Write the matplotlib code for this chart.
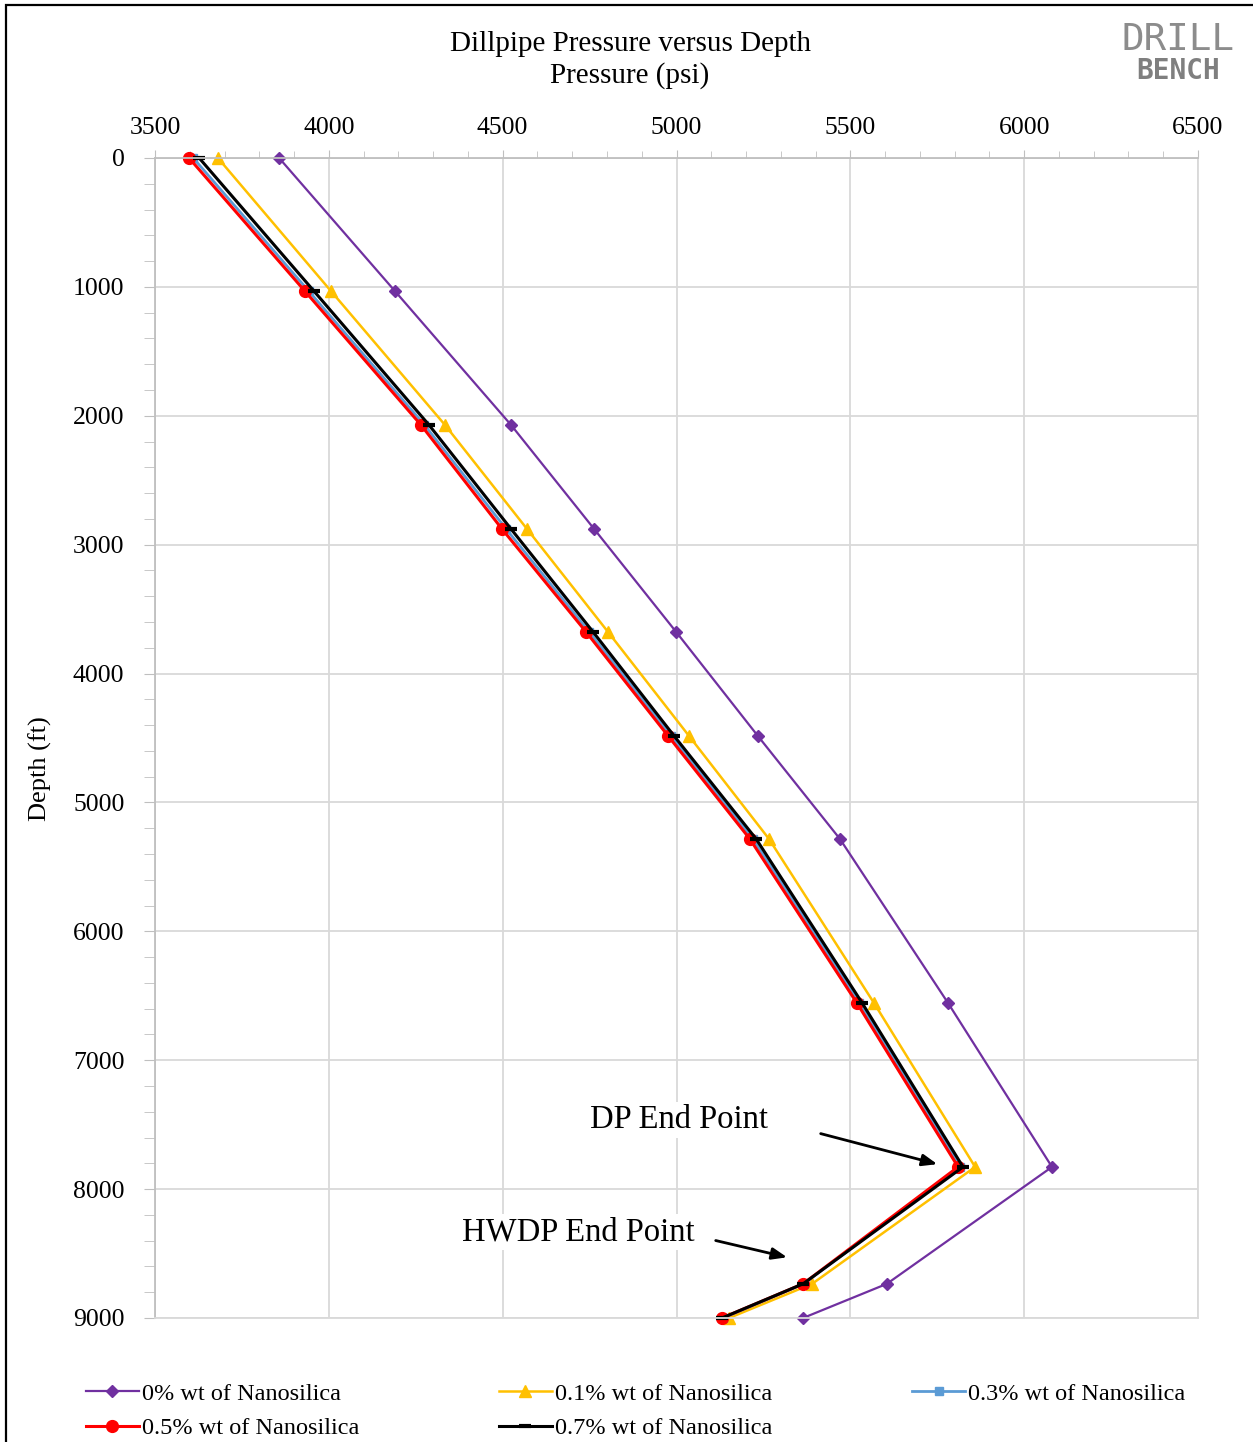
import matplotlib.pyplot as plt
from matplotlib.patches import Rectangle
from matplotlib.ticker import MultipleLocator

# Profundidad (ft) y presión (psi)
depth = [0, 1032, 2071, 2878, 3677, 4484, 5283, 6556, 7828, 8735, 9000]
p_0 = [3857, 4190, 4524, 4763, 4999, 5234, 5470, 5781, 6080, 5605, 5364]
p_01 = [3681, 4006, 4334, 4570, 4803, 5036, 5266, 5568, 5859, 5390, 5151]
p_03 = [3610, 3942, 4275, 4510, 4749, 4984, 5220, 5526, 5816, 5366, 5134]
p_05 = [3598, 3931, 4265, 4498, 4740, 4976, 5211, 5519, 5810, 5364, 5131]
p_07 = [3627, 3957, 4288, 4524, 4760, 4993, 5229, 5534, 5824, 5364, 5131]

labels = ['0% wt of Nanosilica', '0.1% wt of Nanosilica', '0.3% wt of Nanosilica',
          '0.5% wt of Nanosilica', '0.7% wt of Nanosilica']

plt.rcParams['font.family'] = ['Liberation Serif', 'DejaVu Serif']

fig = plt.figure(figsize=(12.53, 14.42), dpi=100)
ax = fig.add_axes([155 / 1253, 1 - 1318 / 1442, 1043 / 1253, 1160 / 1442])

h0, = ax.plot(p_0, depth, color='#7030A0', lw=1.6, marker='D', ms=6.5, label=labels[0], clip_on=False)
h1, = ax.plot(p_01, depth, color='#FFC000', lw=1.8, marker='^', ms=8.5, label=labels[1], clip_on=False)
h3, = ax.plot(p_03, depth, color='#5B9BD5', lw=2, marker='s', ms=6, label=labels[2], clip_on=False)
h5, = ax.plot(p_05, depth, color='#FF0000', lw=2.2, marker='o', ms=8.5, label=labels[3], clip_on=False)
h7, = ax.plot(p_07, depth, color='black', lw=2.2, marker='_', ms=9, mew=3, label=labels[4], clip_on=False)

ax.set_xlim(3500, 6500)
ax.set_ylim(9000, 0)
ax.xaxis.set_major_locator(MultipleLocator(500))
ax.xaxis.set_minor_locator(MultipleLocator(100))
ax.yaxis.set_major_locator(MultipleLocator(1000))
ax.yaxis.set_minor_locator(MultipleLocator(200))
ax.xaxis.tick_top()
ax.tick_params(which='both', color='#bfbfbf', labelsize=18.5)
ax.tick_params(axis='x', which='major', length=6, pad=8)
ax.tick_params(axis='x', which='minor', length=5)
ax.tick_params(axis='y', which='major', length=8, pad=14)
ax.tick_params(axis='y', which='minor', length=8)
ax.grid(True, which='major', color='#d9d9d9', lw=1.3)
ax.set_axisbelow(True)
for s in ax.spines.values():
    s.set_color('#d9d9d9')
    s.set_linewidth(1.3)
ax.spines['left'].set_color('#bfbfbf')
ax.spines['top'].set_color('#bfbfbf')

# Anotaciones
ax.annotate('', xy=(5758, 7812), xytext=(5407, 7564),
            arrowprops=dict(arrowstyle='-|>,head_length=0.9,head_width=0.35', color='black', lw=2))
ax.text(5007, 7463, 'DP End Point', fontsize=23.5, ha='center', va='center',
        bbox=dict(facecolor='white', edgecolor='none', pad=2))
ax.annotate('', xy=(5326, 8534), xytext=(5105, 8394),
            arrowprops=dict(arrowstyle='-|>,head_length=0.9,head_width=0.35', color='black', lw=2))
ax.text(4719, 8332, 'HWDP End Point', fontsize=23.5, ha='center', va='center',
        bbox=dict(facecolor='white', edgecolor='none', pad=2))

# Títulos
fig.text(630 / 1253, 1 - 44 / 1442, 'Dillpipe Pressure versus Depth', fontsize=21, ha='center', va='center')
fig.text(630 / 1253, 1 - 76 / 1442, 'Pressure (psi)', fontsize=21, ha='center', va='center')
fig.text(40 / 1253, 1 - 769 / 1442, 'Depth (ft)', fontsize=19, rotation=90, ha='center', va='center')

# Logo
fig.text(1178 / 1253, 1 - 40 / 1442, 'DRILL', fontsize=27, family='DejaVu Sans Mono',
         color='#8c8c8c', ha='center', va='center')
fig.text(1178 / 1253, 1 - 71 / 1442, 'BENCH', fontsize=20, family='DejaVu Sans Mono',
         color='#7f7f7f', ha='center', va='center', weight='bold')

# Leyenda
fig.legend([h0, h5, h1, h7, h3], [labels[0], labels[3], labels[1], labels[4], labels[2]],
           loc='center left', bbox_to_anchor=(76 / 1253, 1 - 1411 / 1442), ncol=3,
           frameon=False, fontsize=17.5, handlelength=2.2, handletextpad=0.1,
           columnspacing=5.75, labelspacing=0.5, borderaxespad=0)

# Marco
fig.patches.append(Rectangle((6 / 1253, -0.1), 1.2, 1 - 5 / 1442 + 0.1, transform=fig.transFigure,
                             fill=False, edgecolor='black', lw=1.6))

fig.savefig('out.png', dpi=100)
